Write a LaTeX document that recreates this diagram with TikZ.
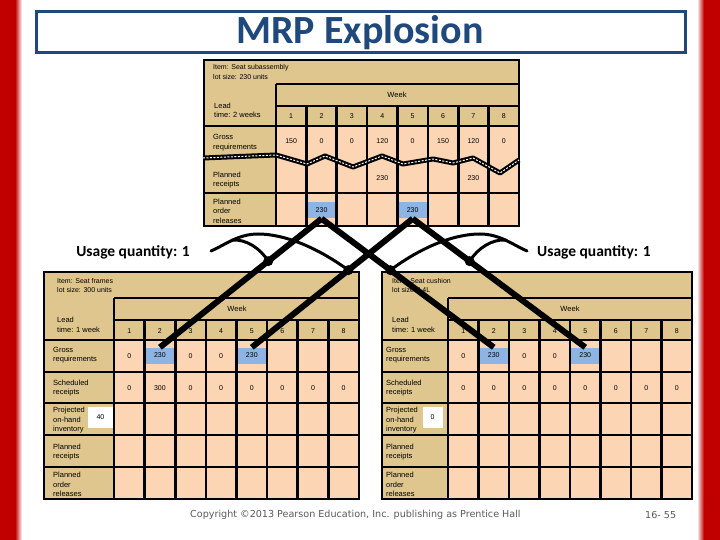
\documentclass[tikz,border=0pt]{standalone}
\usepackage{fontspec}
\setmainfont{Liberation Sans}
\newfontfamily\carlito{Carlito}
\newfontfamily\dejavu{DejaVu Sans}
\usetikzlibrary{calc}
\definecolor{mrptan}{RGB}{222,198,142}
\definecolor{mrppeach}{RGB}{251,213,180}
\definecolor{mrpblue}{RGB}{142,180,227}
\definecolor{mrptitle}{RGB}{31,73,125}
\definecolor{mrpred}{RGB}{192,0,0}
\definecolor{mrpfoot}{RGB}{90,90,90}
\tikzset{
  grid/.style={draw=black, line width=2.6pt},
  num/.style={font=\fontsize{7}{8}\selectfont, inner sep=0pt},
  lbl/.style={font=\fontsize{7.5}{9.5}\selectfont, align=left, anchor=west, inner sep=0pt},
  itm/.style={font=\fontsize{7}{9.5}\selectfont, align=left, anchor=west, inner sep=0pt},
  wk/.style={font=\fontsize{7.5}{9}\selectfont, inner sep=0pt},
  bluecell/.style={fill=mrpblue, minimum width=28pt, minimum height=16pt, inner sep=0pt, font=\fontsize{7}{8}\selectfont},
  whitecell/.style={fill=white, minimum height=21pt, inner sep=0pt, font=\fontsize{7}{8}\selectfont},
  conn/.style={line width=6pt, line cap=butt},
  curve/.style={line width=3pt, line cap=round},
  dot/.style={circle, fill=black, minimum size=10pt, inner sep=0pt},
  usage/.style={font=\carlito\bfseries\fontsize{15.5}{17}\selectfont, inner sep=0pt},
  ttl/.style={font=\carlito\bfseries\fontsize{40}{44}\selectfont, text=mrptitle, inner sep=0pt},
  foot/.style={font=\dejavu\fontsize{9.6}{11}\selectfont, text=mrpfoot, inner sep=0pt, anchor=west}
}
\begin{document}
\begin{tikzpicture}[x=1pt,y=-1pt]
\useasboundingbox (0,0) rectangle (720,540);
\fill[white] (0,0) rectangle (720,540);
% side bars
\fill[mrpred] (0,0) rectangle (15,540);
\shade[left color=mrpred, right color=white] (15,0) rectangle (22,540);
\shade[left color=white, right color=mrpred] (697,0) rectangle (704,540);
\fill[mrpred] (704,0) rectangle (720,540);
% title
\draw[mrptitle, line width=3pt] (36,12) rectangle (685,53);
\node[ttl] (title) at (360,33) {MRP Explosion};

% ================= top table =================
\fill[mrptan] (204,60) rectangle (519,126);
\fill[mrptan] (204,126) rectangle (276,226);
\fill[mrppeach] (276,126) rectangle (519,226);
\node[bluecell] (T-por-2) at ({276+1.5*30.375},210.5) {230};
\node[bluecell] (T-por-5) at ({276+4.5*30.375},210.5) {230};
\draw[grid] (204,60) rectangle (519,226);
\draw[grid] (276,84) -- (519,84) (276,106) -- (519,106) (204,126) -- (519,126) (204,193) -- (519,193);
\draw[grid] (276,84) -- (276,226);
\foreach \i in {1,...,7} \draw[grid] ({276+\i*30.375},106) -- ({276+\i*30.375},226);
% break line
\draw[line width=5pt, line join=round] plot coordinates {(203,158) (276,155) (307,164) (325,156) (353,167) (382,156) (403,164) (433,159) (453,163) (473,158) (500,173) (519,160)};
\draw[white, line width=1pt, dash pattern=on 2pt off 1.5pt, line join=round] plot coordinates {(203,158) (276,155) (307,164) (325,156) (353,167) (382,156) (403,164) (433,159) (453,163) (473,158) (500,173) (519,160)};
\node[itm] (T-item) at (213,72) {Item: Seat subassembly\\lot size: 230 units};
\node[lbl] (T-lead) at (214,110.5) {Lead\\time: 2 weeks};
\node[wk] (T-week) at (397,95) {Week};
\foreach \i in {1,...,8} \node[num] (T-wk-\i) at ({276+(\i-0.5)*30.375},116) {\i};
\node[lbl] (T-grl) at (213,142.5) {Gross\\requirements};
\foreach \v [count=\i] in {150,0,0,120,0,150,120,0} \node[num] (T-gr-\i) at ({276+(\i-0.5)*30.375},141) {\v};
\node[lbl] (T-prl) at (213,180) {Planned\\receipts};
\node[num] (T-pr-4) at ({276+3.5*30.375},178) {230};
\node[num] (T-pr-7) at ({276+6.5*30.375},178) {230};
\node[lbl] (T-porl) at (213,211) {Planned\\order\\releases};

% ================= left table =================
\fill[mrptan] (44,272) rectangle (359,340);
\fill[mrptan] (44,340) rectangle (114,499);
\fill[mrppeach] (114,340) rectangle (359,499);
\node[bluecell] (L-gr-2) at ({114+1.5*30.625},355.5) {230};
\node[bluecell] (L-gr-5) at ({114+4.5*30.625},355.5) {230};
\node[whitecell, minimum width=25pt] (L-oh) at (100.5,417.5) {40};
\draw[grid] (44,272) rectangle (359,499);
\draw[grid] (114,298) -- (359,298) (114,320) -- (359,320);
\foreach \y in {340,372,403,435,467} \draw[grid] (44,\y) -- (359,\y);
\draw[grid] (114,298) -- (114,499);
\foreach \i in {1,...,7} \draw[grid] ({114+\i*30.625},320) -- ({114+\i*30.625},499);
\node[itm] (L-item) at (57,285.5) {Item: Seat frames\\lot size: 300 units};
\node[lbl] (L-lead) at (57,325) {Lead\\time: 1 week};
\node[wk] (L-week) at (237,309) {Week};
\foreach \i in {1,...,8} \node[num] (L-wk-\i) at ({114+(\i-0.5)*30.625},331) {\i};
\node[lbl] (L-grl) at (53,355) {Gross\\requirements};
\node[num] (L-gr-1) at ({114+0.5*30.625},356) {0};
\node[num] (L-gr-3) at ({114+2.5*30.625},356) {0};
\node[num] (L-gr-4) at ({114+3.5*30.625},356) {0};
\node[lbl] (L-srl) at (53,388) {Scheduled\\receipts};
\foreach \v [count=\i] in {0,300,0,0,0,0,0,0} \node[num] (L-sr-\i) at ({114+(\i-0.5)*30.625},388) {\v};
\node[lbl] (L-ohl) at (53,420.5) {Projected\\on-hand\\inventory};
\node[lbl] (L-prl) at (53,452) {Planned\\receipts};
\node[lbl] (L-porl) at (53,484.5) {Planned\\order\\releases};

% ================= right table =================
\fill[mrptan] (382,272) rectangle (692,340);
\fill[mrptan] (382,340) rectangle (448,499);
\fill[mrppeach] (448,340) rectangle (692,499);
\node[bluecell] (R-gr-2) at ({448+1.5*30.5},355.5) {230};
\node[bluecell] (R-gr-5) at ({448+4.5*30.5},355.5) {230};
\node[whitecell, minimum width=20pt] (R-oh) at (432.5,417.5) {0};
\draw[grid] (382,272) rectangle (692,499);
\draw[grid] (448,298) -- (692,298) (448,320) -- (692,320);
\foreach \y in {340,372,403,435,467} \draw[grid] (382,\y) -- (692,\y);
\draw[grid] (448,298) -- (448,499);
\foreach \i in {1,...,7} \draw[grid] ({448+\i*30.5},320) -- ({448+\i*30.5},499);
\node[itm] (R-item) at (392,285.5) {Item: Seat cushion\\lot size: L4L};
\node[lbl] (R-lead) at (392,325) {Lead\\time: 1 week};
\node[wk] (R-week) at (570,309) {Week};
\foreach \i in {1,...,8} \node[num] (R-wk-\i) at ({448+(\i-0.5)*30.5},331) {\i};
\node[lbl] (R-grl) at (386,355) {Gross\\requirements};
\node[num] (R-gr-1) at ({448+0.5*30.5},356) {0};
\node[num] (R-gr-3) at ({448+2.5*30.5},356) {0};
\node[num] (R-gr-4) at ({448+3.5*30.5},356) {0};
\node[lbl] (R-srl) at (386,388) {Scheduled\\receipts};
\foreach \i in {1,...,8} \node[num] (R-sr-\i) at ({448+(\i-0.5)*30.5},388) {0};
\node[lbl] (R-ohl) at (386,420.5) {Projected\\on-hand\\inventory};
\node[lbl] (R-prl) at (386,452) {Planned\\receipts};
\node[lbl] (R-porl) at (386,484.5) {Planned\\order\\releases};

% ================= connectors =================
\draw[conn] (T-por-2.south) -- (L-gr-2.north);
\draw[conn] (T-por-2.south) -- (R-gr-2.north);
\draw[conn] (T-por-5.south) -- (L-gr-5.north);
\draw[conn] (T-por-5.south) -- (R-gr-5.north);
\coordinate (DL1) at ($(T-por-2.south)!0.33!(L-gr-2.north)$);
\coordinate (DL2) at ($(T-por-5.south)!0.40!(L-gr-5.north)$);
\coordinate (DR1) at ($(T-por-5.south)!0.33!(R-gr-5.north)$);
\coordinate (DR2) at ($(T-por-2.south)!0.40!(R-gr-2.north)$);

\node[usage, anchor=east] (UL) at (190,252) {Usage quantity: 1};
\node[usage, anchor=west] (UR) at (537,252) {Usage quantity: 1};
\coordinate (ULs) at (211,251);
\coordinate (ULf) at (232,240);
\coordinate (URs) at (527,251);
\coordinate (URf) at (506,240);
\draw[curve] (ULs) .. controls (225,245) and (238,234) .. (258,234) .. controls (285,234) and (318,248) .. (DL2);
\draw[curve] (ULf) .. controls (246,239) and (260,248) .. (DL1);
\draw[curve] (URs) .. controls (513,245) and (500,234) .. (480,234) .. controls (453,234) and (420,248) .. (DR2);
\draw[curve] (URf) .. controls (492,239) and (478,248) .. (DR1);
\node[dot] (dl1) at (DL1) {};
\node[dot] (dl2) at (DL2) {};
\node[dot] (dr1) at (DR1) {};
\node[dot] (dr2) at (DR2) {};

% footer
\node[foot] (copy) at (190,515) {Copyright ©2013 Pearson Education, Inc. publishing as Prentice Hall};
\node[foot] (page) at (645,515) {16- 55};
\end{tikzpicture}
\end{document}
